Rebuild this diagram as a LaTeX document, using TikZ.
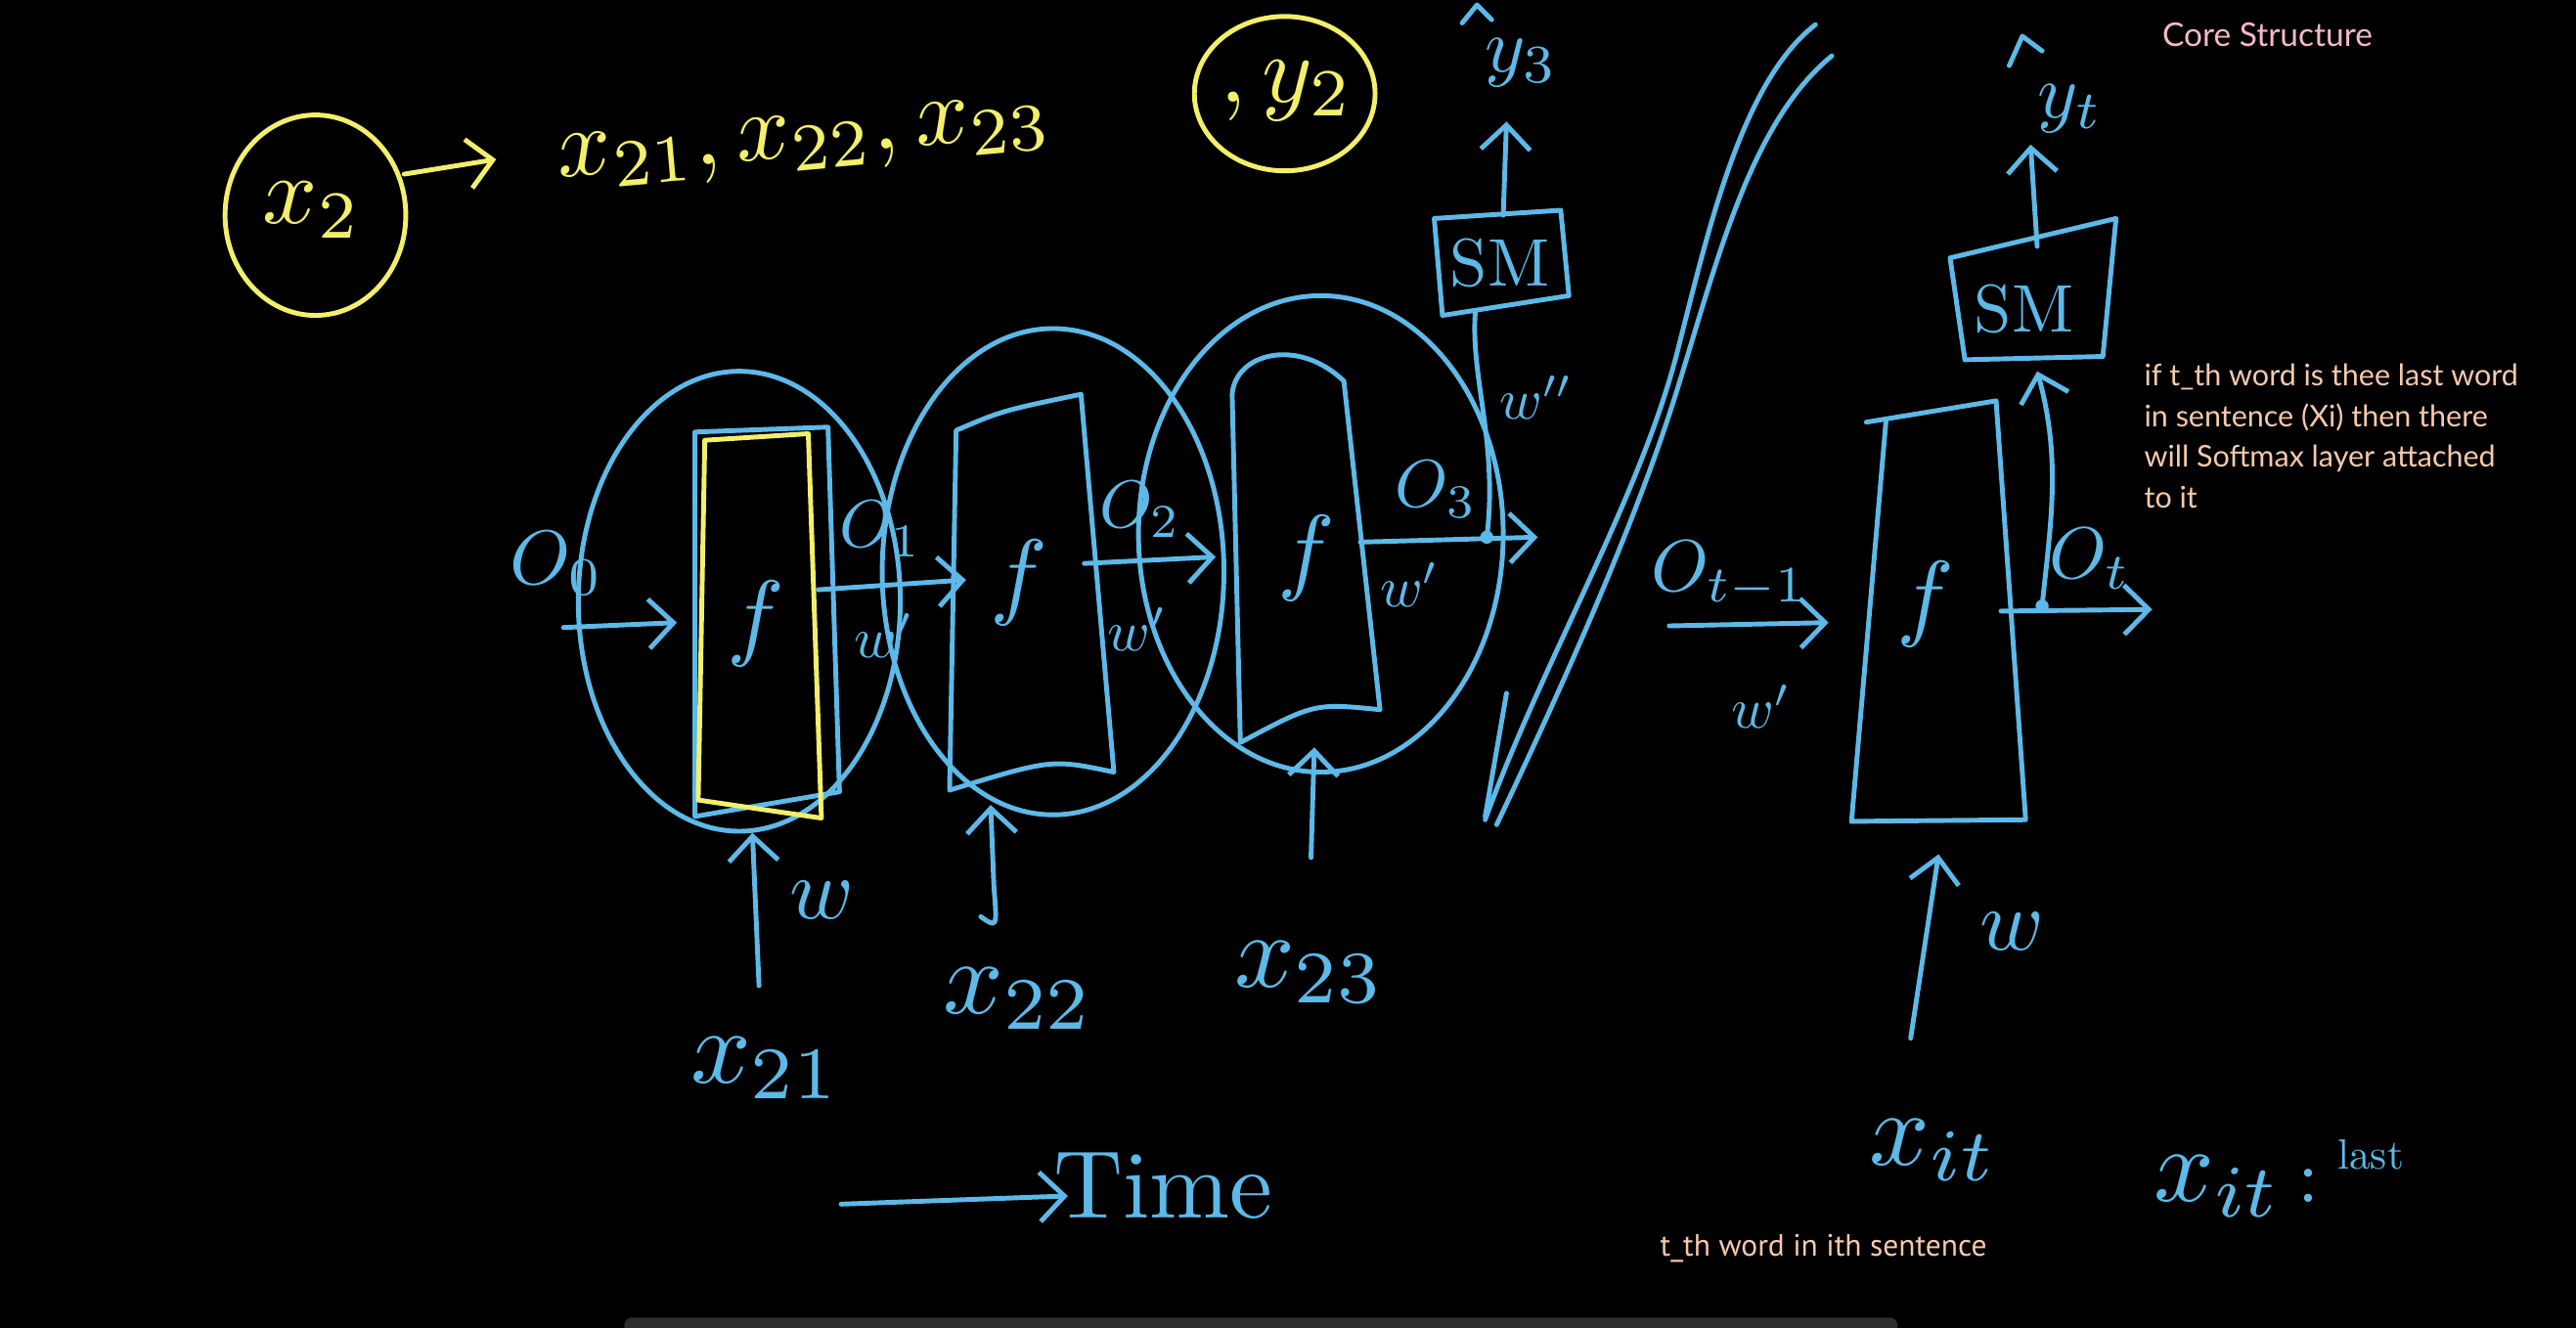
\documentclass[tikz,border=0pt]{standalone}
\usepackage{fontspec}
\usetikzlibrary{arrows.meta}
\newfontfamily\notefont{Lato}
\newfontfamily\narrowfont{PT Sans}
\definecolor{chalk}{HTML}{5DB9E8}
\definecolor{chalky}{HTML}{F3EF6B}
\definecolor{peach}{HTML}{F7C9AC}
\definecolor{pinknote}{HTML}{F4B8CC}
\begin{document}
\begin{tikzpicture}[x=0.03cm,y=-0.03cm,line cap=round,line join=round,
  stroke/.style={draw=chalk,line width=2.5pt},
  ystroke/.style={draw=chalky,line width=2.5pt},
  barb/.style={-{Straight Barb[length=4.5mm,width=9mm]}},
  lbl/.style={text=chalk,inner sep=0pt},
  ylbl/.style={text=chalky,inner sep=0pt}]
\fill[black] (0,0) rectangle (1568,808.4);
\useasboundingbox (0,0) rectangle (1568,808.4);

% ---------- yellow header ----------
\draw[ystroke] (192,131) ellipse [x radius=55,y radius=61];
\node[ylbl,scale=5] (x2) at (190,128) {$x_2$};
\coordinate (ya1) at (246,106); \coordinate (ya2) at (302,97);
\draw[ystroke,barb] (ya1) -- (ya2);
\node[ylbl,scale=5,rotate=5] (xs) at (490,88) {$x_{21},x_{22},x_{23}$};
\draw[ystroke] (782,57) ellipse [x radius=55,y radius=47];
\node[ylbl,scale=5] (y2) at (783,55) {$,y_2$};

% ---------- unrolled cells ----------
\draw[stroke] (450,366) ellipse [x radius=98,y radius=140];
\draw[stroke] (641,348) ellipse [x radius=104,y radius=148];
\draw[stroke] (804,325) ellipse [x radius=111,y radius=145];

\draw[stroke] (423,263) -- (504,260) -- (511,482) -- (423,497) -- cycle;
\draw[ystroke] (429,268) -- (492,264) -- (500,498) -- (425,487) -- cycle;
\draw[stroke] (582,262) .. controls (610,250) .. (658,240) -- (678,470)
  .. controls (640,462) .. (578,481) -- cycle;
\draw[stroke] (750,240) .. controls (752,215) and (790,205) .. (818,232)
  -- (840,432) .. controls (800,428) .. (755,452) -- cycle;

\node[lbl,scale=5] (f1) at (460,380) {$f$};
\node[lbl,scale=5] (f2) at (620,355) {$f$};
\node[lbl,scale=5] (f3) at (795,340) {$f$};

% recurrent arrows
\coordinate (a0s) at (343,382); \coordinate (a0e) at (412,379);
\draw[stroke,barb] (a0s) -- (a0e);
\node[lbl,scale=4] (o0) at (339,343) {$O_0$};
\coordinate (a1s) at (498,359); \coordinate (a1e) at (588,353);
\draw[stroke,barb] (a1s) -- (a1e);
\node[lbl,scale=3.5] (o1) at (536,322) {$O_1$};
\node[lbl,scale=3] (w1p) at (538,387) {$w'$};
\coordinate (a2s) at (660,343); \coordinate (a2e) at (740,339);
\draw[stroke,barb] (a2s) -- (a2e);
\node[lbl,scale=3.5] (o2) at (694,310) {$O_2$};
\node[lbl,scale=3] (w2p) at (692,383) {$w'$};
\coordinate (a3s) at (828,330); \coordinate (a3e) at (936,327);
\draw[stroke,barb] (a3s) -- (a3e);
\node[lbl,scale=3.5] (o3) at (874,298) {$O_3$};
\node[lbl,scale=3] (w3p) at (858,356) {$w'$};
\coordinate (dot3) at (905,327);
\fill[chalk] (dot3) circle (4);

% softmax of cell 3
\draw[stroke] (873,133) -- (950,128) -- (955,180) -- (878,192) -- cycle;
\node[lbl,scale=3.5] (sm3) at (913,160) {SM};
\coordinate (sm3b) at (898,190); \coordinate (sm3t) at (915,131);
\coordinate (y3a) at (917,74);
\draw[stroke] (dot3) .. controls (912,270) and (895,230) .. (sm3b);
\draw[stroke,barb] (sm3t) -- (y3a);
\node[lbl,scale=4] (yhat3) at (926,38) {$y_3$};
\draw[stroke] (890,14) -- (899,3) -- (908,12);
\node[lbl,scale=3] (w3pp) at (935,242) {$w''$};

% inputs
\coordinate (i1s) at (462,600); \coordinate (i1e) at (458,507);
\draw[stroke,barb] (i1s) -- (i1e);
\node[lbl,scale=4.5] (w1) at (500,548) {$w$};
\node[lbl,scale=5.5] (x21) at (466,650) {$x_{21}$};
\coordinate (i2s) at (597,558); \coordinate (i2e) at (603,490);
\draw[stroke,barb] (i2s) .. controls (607,565) .. (605,540) -- (i2e);
\node[lbl,scale=5.5] (x22) at (620,608) {$x_{22}$};
\coordinate (i3s) at (798,522); \coordinate (i3e) at (800,455);
\draw[stroke,barb] (i3s) -- (i3e);
\node[lbl,scale=5.5] (x23) at (797,592) {$x_{23}$};

% divider
\draw[stroke] (1105,15) .. controls (1060,50) and (1040,140) .. (1022,210)
  .. controls (1000,300) and (940,400) .. (904,499);
\draw[stroke] (1115,34) .. controls (1065,75) and (1045,160) .. (1020,240)
  .. controls (995,320) and (950,420) .. (911,502);
\draw[stroke] (917,422) -- (904,497);

% ---------- last time step ----------
\draw[stroke] (1136,257) -- (1215,244) -- (1233,499) -- (1127,500);
\draw[stroke] (1148,256) -- (1127,500);
\node[lbl,scale=5] (f4) at (1172,368) {$f$};
\coordinate (b0s) at (1016,381); \coordinate (b0e) at (1113,379);
\draw[stroke,barb] (b0s) -- (b0e);
\node[lbl,scale=3.8] (otm) at (1053,350) {$O_{t-1}$};
\node[lbl,scale=3] (wtp) at (1072,430) {$w'$};
\coordinate (b1s) at (1218,372); \coordinate (b1e) at (1310,371);
\draw[stroke,barb] (b1s) -- (b1e);
\node[lbl,scale=3.8] (ot) at (1272,340) {$O_t$};
\coordinate (dot4) at (1243,369);
\fill[chalk] (dot4) circle (4);

\draw[stroke] (1187,157) -- (1288,133) -- (1280,217) -- (1196,219) -- cycle;
\node[lbl,scale=3.5] (sm4) at (1232,188) {SM};
\coordinate (sm4b) at (1240,226); \coordinate (sm4t) at (1240,150);
\coordinate (yta) at (1236,88);
\draw[stroke,barb] (dot4) .. controls (1248,320) and (1255,280) .. (sm4b);
\draw[stroke,barb] (sm4t) -- (yta);
\node[lbl,scale=4] (yhatt) at (1260,66) {$y_t$};
\draw[stroke] (1223,40) -- (1231,22) -- (1243,31);

\coordinate (i4s) at (1163,632); \coordinate (i4e) at (1180,520);
\draw[stroke,barb] (i4s) -- (i4e);
\node[lbl,scale=4.5] (w4) at (1225,567) {$w$};
\node[lbl,scale=5.5] (xit) at (1177,700) {$x_{it}$};

% bottom
\coordinate (ts) at (512,733); \coordinate (te) at (650,728);
\draw[stroke,barb] (ts) -- (te);
\node[lbl,scale=5] (time) at (708,722) {Time};
\node[lbl,scale=5.5] (xitl) at (1350,722) {$x_{it}$};
\node[lbl,scale=4] (colon) at (1405,722) {:};
\node[lbl,scale=2.2] (last) at (1443,703) {last};

% notes
\node[text=pinknote,inner sep=0pt,anchor=west,font=\notefont\fontsize{17}{20}\selectfont] (core) at (1316,21) {Core Structure};
\node[text=peach,inner sep=0pt,anchor=north west,align=left,font=\notefont\fontsize{15.5}{21.3}\selectfont] (note) at (1305,221)
  {if t\_th word is thee last word\\in sentence (Xi) then there\\will Softmax layer attached\\to it};
\node[text=peach,inner sep=0pt,font=\narrowfont\fontsize{16}{18}\selectfont] (tth) at (1110,760) {t\_th word in ith sentence};

% player bar
\fill[black!82!white,rounded corners=4pt] (380,802) rectangle (1155,820);
\end{tikzpicture}
\end{document}
